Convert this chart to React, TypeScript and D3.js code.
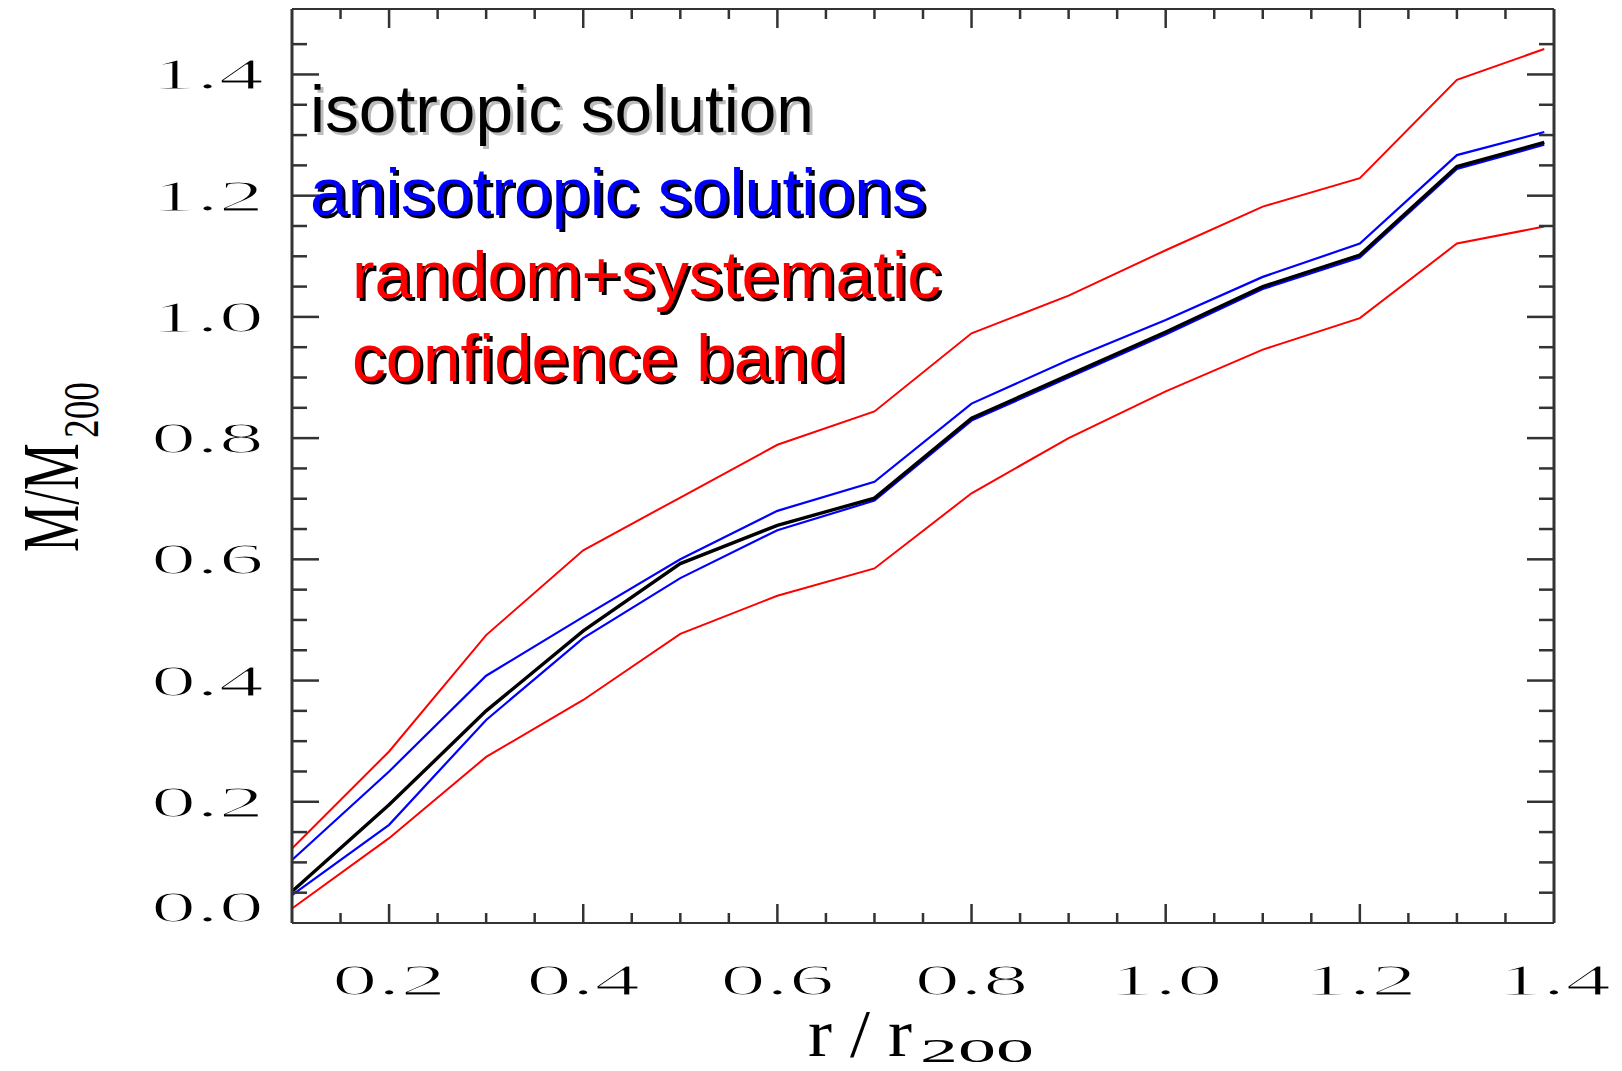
import React, { useEffect } from "react";
import * as d3 from "d3";

// Radius grid (r / r200) shared by every profile
const R_VALUES = [0.1, 0.2, 0.3, 0.4, 0.5, 0.6, 0.7, 0.8, 0.9, 1.0, 1.1, 1.2, 1.3, 1.39];

// M / M200 profiles
const BAND_UPPER = [0.123, 0.283, 0.475, 0.615, 0.702, 0.789, 0.844, 0.973, 1.035, 1.11, 1.182, 1.229, 1.391, 1.442];
const ANISO_UPPER = [0.104, 0.25, 0.408, 0.505, 0.6, 0.68, 0.728, 0.857, 0.929, 0.995, 1.066, 1.121, 1.267, 1.305];
const ISOTROPIC = [0.052, 0.195, 0.35, 0.482, 0.593, 0.656, 0.701, 0.833, 0.904, 0.975, 1.05, 1.102, 1.248, 1.288];
const ANISO_LOWER = [0.046, 0.162, 0.335, 0.47, 0.569, 0.648, 0.697, 0.829, 0.9, 0.971, 1.046, 1.098, 1.244, 1.284];
const BAND_LOWER = [0.024, 0.14, 0.274, 0.368, 0.477, 0.54, 0.585, 0.709, 0.8, 0.877, 0.946, 0.998, 1.121, 1.149];

const X_TICK_LABELS = ["0.2", "0.4", "0.6", "0.8", "1.0", "1.2", "1.4"];
const Y_TICK_LABELS = ["0.0", "0.2", "0.4", "0.6", "0.8", "1.0", "1.2", "1.4"];

const LEGEND_LINES = [
  { text: "isotropic solution", color: "#000000", shadow: "#bcbcbc", indent: false, width: 504 },
  { text: "anisotropic solutions", color: "#0000ff", shadow: "#000000", indent: false, width: 616 },
  { text: "random+systematic", color: "#ff0000", shadow: "#000000", indent: true, width: 589 },
  { text: "confidence band", color: "#ff0000", shadow: "#000000", indent: true, width: 494 },
];

const W = 1622;
const H = 1071;
const LEFT = 292;
const RIGHT = 1554;
const TOP = 9;
const BOTTOM = 923;

const SERIF = "'Liberation Serif', 'DejaVu Serif', serif";
const SANS = "'Liberation Sans', Arial, sans-serif";
const AXIS = "#333333";

export default function App() {
  useEffect(() => {
    document.body.style.margin = "0";
  }, []);

  const x = d3.scaleLinear().domain([0.1, 1.4]).range([LEFT, RIGHT]);
  const y = d3.scaleLinear().domain([0, 1.508]).range([BOTTOM, TOP]);

  const line = d3
    .line<number>()
    .x((_, i) => x(R_VALUES[i]))
    .y((d) => y(d));

  const isMajor = (v: number) => Math.abs(v / 0.2 - Math.round(v / 0.2)) < 1e-6;

  const xMinor = d3.range(0, 27).map((i) => +(0.1 + i * 0.05).toFixed(2));
  const yMinor = d3.range(0, 31).map((i) => +(i * 0.05).toFixed(2));

  const X_MAJOR_LEN = 19;
  const X_MINOR_LEN = 10;
  const Y_MAJOR_LEN = 27;
  const Y_MINOR_LEN = 15;

  const series = [
    { data: BAND_UPPER, color: "#ff0000", width: 2 },
    { data: BAND_LOWER, color: "#ff0000", width: 2 },
    { data: ANISO_UPPER, color: "#0000ff", width: 2.2 },
    { data: ANISO_LOWER, color: "#0000ff", width: 2.2 },
    { data: ISOTROPIC, color: "#000000", width: 3.4 },
  ];

  return (
    <svg
      width={W}
      height={H}
      viewBox={`0 0 ${W} ${H}`}
      style={{ display: "block", position: "absolute", left: 0, top: 0, background: "#fff" }}
    >
      <rect x={0} y={0} width={W} height={H} fill="#ffffff" />

      {/* curves */}
      <g fill="none" strokeLinejoin="miter">
        {series.map((s, i) => (
          <path key={i} d={line(s.data) || ""} stroke={s.color} strokeWidth={s.width} />
        ))}
      </g>

      {/* x ticks, bottom and top */}
      <g stroke={AXIS} strokeWidth={2.5}>
        {xMinor
          .filter((v) => v > 0.1 + 1e-6 && v < 1.4 - 1e-6)
          .map((v) => {
            const len = isMajor(v) ? X_MAJOR_LEN : X_MINOR_LEN;
            return (
              <g key={`xt${v}`}>
                <line x1={x(v)} x2={x(v)} y1={BOTTOM} y2={BOTTOM - len} />
                <line x1={x(v)} x2={x(v)} y1={TOP} y2={TOP + len} />
              </g>
            );
          })}
      </g>

      {/* y ticks, left and right */}
      <g stroke={AXIS} strokeWidth={2.5}>
        {yMinor
          .filter((v) => v > 1e-6 && v < 1.5)
          .map((v) => {
            const len = isMajor(v) ? Y_MAJOR_LEN : Y_MINOR_LEN;
            return (
              <g key={`yt${v}`}>
                <line x1={LEFT} x2={LEFT + len} y1={y(v)} y2={y(v)} />
                <line x1={RIGHT} x2={RIGHT - len} y1={y(v)} y2={y(v)} />
              </g>
            );
          })}
      </g>

      {/* frame */}
      <g stroke={AXIS}>
        <line x1={LEFT} x2={RIGHT} y1={TOP} y2={TOP} strokeWidth={2.2} />
        <line x1={LEFT} x2={RIGHT} y1={BOTTOM} y2={BOTTOM} strokeWidth={2.2} />
        <line x1={LEFT} x2={LEFT} y1={TOP} y2={BOTTOM} strokeWidth={3} />
        <line x1={RIGHT} x2={RIGHT} y1={TOP} y2={BOTTOM} strokeWidth={3} />
      </g>

      {/* y tick labels */}
      <g fontFamily={SERIF} fontSize={44} fill="#000" stroke="#fff" strokeWidth={1.2}>
        {Y_TICK_LABELS.map((t) => {
          const v = +t;
          const yy = v === 0 ? y(v) - 16 : y(v);
          return (
            <text key={`yl${t}`} x={151} y={yy + 15} textLength={113} lengthAdjust="spacingAndGlyphs">
              {t}
            </text>
          );
        })}
      </g>

      {/* x tick labels */}
      <g fontFamily={SERIF} fontSize={44} fill="#000" stroke="#fff" strokeWidth={1.2}>
        {X_TICK_LABELS.map((t) => {
          const v = +t;
          return (
            <text key={`xl${t}`} x={x(v) - 57} y={995} textLength={114} lengthAdjust="spacingAndGlyphs">
              {t}
            </text>
          );
        })}
      </g>

      {/* x axis title */}
      <g fontFamily={SERIF} fill="#000">
        <text x={808} y={1056} fontSize={68} textLength={104} lengthAdjust="spacingAndGlyphs">
          r / r
        </text>
        <text x={920} y={1062} fontSize={33} textLength={114} lengthAdjust="spacingAndGlyphs">
          200
        </text>
      </g>

      {/* y axis title */}
      <g transform="translate(78, 552) rotate(-90)" fontFamily={SERIF} fill="#000">
        <text x={0} y={0} fontSize={80} textLength={109} lengthAdjust="spacingAndGlyphs">
          M/M
        </text>
        <text x={114} y={20} fontSize={50} textLength={56} lengthAdjust="spacingAndGlyphs">
          200
        </text>
      </g>

      {/* legend */}
      <g fontFamily={SANS} fontSize={67}>
        {LEGEND_LINES.map((l, i) => {
          const lx = l.indent ? 352 : 310;
          const ly = 132 + i * 83;
          return (
            <g key={l.text}>
              <text x={lx + 3} y={ly + 3} fill={l.shadow} textLength={l.width} lengthAdjust="spacingAndGlyphs">
                {l.text}
              </text>
              <text x={lx} y={ly} fill={l.color} textLength={l.width} lengthAdjust="spacingAndGlyphs">
                {l.text}
              </text>
            </g>
          );
        })}
      </g>
    </svg>
  );
}
